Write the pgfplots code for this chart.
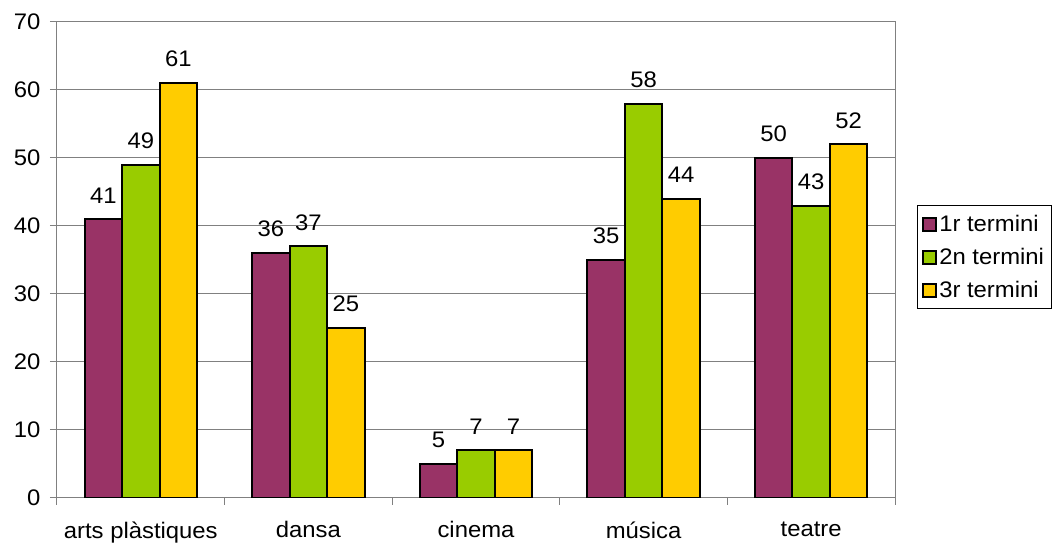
\documentclass[border=0pt]{standalone}
\usepackage{fontspec}
\setmainfont{Liberation Sans}[FakeStretch=1.06]
\usepackage{pgfplots}
\pgfplotsset{compat=1.18}
\definecolor{cA}{HTML}{993366}
\definecolor{cB}{HTML}{99CC00}
\definecolor{cC}{HTML}{FFCC00}
\definecolor{gl}{HTML}{808080}
\begin{document}
\begin{tikzpicture}[line join=miter]
\begin{axis}[
  at={(0,0)}, anchor=south west,
  scale only axis, width=838pt, height=476pt,
  font=\fontsize{22.5}{26}\selectfont,
  /pgf/number format/assume math mode=true,
  ybar=0pt, bar width=37.5pt,
  xmin=-0.5, xmax=4.5, ymin=0, ymax=70,
  ytick={0,10,...,70},
  xtick={0,1,2,3,4},
  xticklabels={arts plàstiques,dansa,cinema,música,teatre},
  minor xtick={-0.5,0.5,1.5,2.5,3.5,4.5},
  major x tick style={draw=none},
  tick align=outside,
  major tick length=7pt, minor tick length=7pt,
  tick style={gl, line width=1pt},
  every minor tick/.style={gl, line width=1pt},
  xtick pos=bottom, ytick pos=left,
  ymajorgrids, grid style={gl, line width=1pt},
  axis line style={gl, line width=1pt},
  yticklabel style={xshift=-6pt},
  xticklabel style={yshift=-13pt},
  nodes near coords,
  every node near coord/.append style={anchor=south, inner sep=0pt, yshift=15pt, font=\fontsize{22.5}{26}\selectfont, black},
  legend style={at={(1.026,0.6155)}, anchor=north west, draw=black, line width=1pt,
    font=\fontsize{22.5}{26}\selectfont, inner xsep=5pt, inner ysep=8pt, row sep=11pt},
  legend cell align=left,
  legend image code/.code={\draw[#1, draw=black, line width=2pt, line join=miter] (0pt,-6.5pt) rectangle (13pt,6.5pt);},
  every axis plot/.append style={draw=black, line width=2pt, line join=miter},
]
\addplot[fill=cA] coordinates {(0,41) (1,36) (2,5) (3,35) (4,50)};
\addplot[fill=cB] coordinates {(0,49) (1,37) (2,7) (3,58) (4,43)};
\addplot[fill=cC] coordinates {(0,61) (1,25) (2,7) (3,44) (4,52)};
\legend{1r termini,2n termini,3r termini}
\draw[gl, line width=1pt] (rel axis cs:1,0) -- (rel axis cs:1,1);
\end{axis}
\pgfresetboundingbox
\path[use as bounding box] (-57pt,-48pt) rectangle (998pt,498pt);
\end{tikzpicture}
\end{document}
